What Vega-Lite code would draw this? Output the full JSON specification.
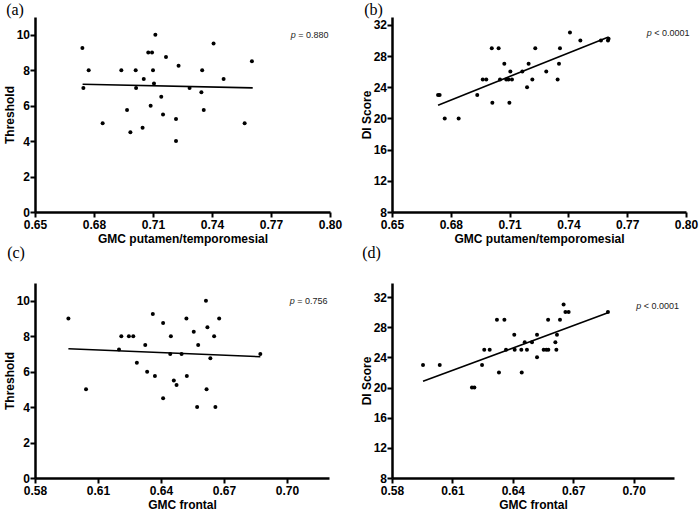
{
  "$schema": "https://vega.github.io/schema/vega-lite/v6.json",
  "background": "white",
  "padding": {"left": 3, "top": 2, "right": 5, "bottom": 5},
  "datasets": {
    "a_pts": [
      {"x":0.6741,"y":9.25},{"x":0.6746,"y":7},{"x":0.6773,"y":8},{"x":0.6844,"y":5},{"x":0.6939,"y":8},
      {"x":0.6968,"y":5.75},{"x":0.6985,"y":4.5},{"x":0.7012,"y":8},{"x":0.7014,"y":7},{"x":0.7047,"y":4.75},
      {"x":0.7053,"y":7.5},{"x":0.7076,"y":9},{"x":0.7095,"y":9},{"x":0.7088,"y":6},{"x":0.71,"y":8},
      {"x":0.7105,"y":7.25},{"x":0.7112,"y":10},{"x":0.7166,"y":8.75},{"x":0.7142,"y":6.5},{"x":0.7151,"y":5.5},
      {"x":0.7217,"y":5.25},{"x":0.7217,"y":4},{"x":0.723,"y":8.25},{"x":0.7286,"y":7},{"x":0.7346,"y":6.75},
      {"x":0.735,"y":8},{"x":0.7358,"y":5.75},{"x":0.7408,"y":9.5},{"x":0.7459,"y":7.5},{"x":0.7566,"y":5},
      {"x":0.7603,"y":8.5}
    ],
    "a_fit": [{"x":0.6742,"y":7.21},{"x":0.7607,"y":7.0}],
    "a_p": [{"x":0.78,"y":10,"part":"p","text":"p"},{"x":0.78,"y":10,"part":"v","text":"= 0.880"}],
    "b_pts": [
      {"x":0.6735,"y":23},{"x":0.6743,"y":23},{"x":0.6769,"y":20},{"x":0.684,"y":20},{"x":0.6935,"y":23},
      {"x":0.6963,"y":25},{"x":0.6981,"y":25},{"x":0.7009,"y":29},{"x":0.7012,"y":22},{"x":0.7044,"y":29},
      {"x":0.7051,"y":25},{"x":0.7073,"y":27},{"x":0.7083,"y":25},{"x":0.7094,"y":25},{"x":0.7099,"y":22},
      {"x":0.7104,"y":26},{"x":0.7112,"y":25},{"x":0.7165,"y":26},{"x":0.7189,"y":24},{"x":0.7197,"y":27},
      {"x":0.7216,"y":25},{"x":0.7231,"y":29},{"x":0.7287,"y":26},{"x":0.7345,"y":25},{"x":0.7352,"y":27},
      {"x":0.7357,"y":29},{"x":0.7408,"y":31},{"x":0.7461,"y":30},{"x":0.7566,"y":30},{"x":0.7602,"y":30},
      {"x":0.7605,"y":30.2}
    ],
    "b_fit": [{"x":0.6735,"y":21.7},{"x":0.7605,"y":30.45}],
    "b_p": [{"x":0.78,"y":30.9,"part":"p","text":"p"},{"x":0.78,"y":30.9,"part":"v","text":"< 0.0001"}],
    "c_pts": [
      {"x":0.5959,"y":9},{"x":0.6043,"y":5},{"x":0.62,"y":7.25},{"x":0.6211,"y":8},{"x":0.6247,"y":8},
      {"x":0.6268,"y":8},{"x":0.6285,"y":6.5},{"x":0.6325,"y":7.5},{"x":0.6334,"y":6},{"x":0.6361,"y":9.25},
      {"x":0.6371,"y":5.75},{"x":0.641,"y":8.75},{"x":0.641,"y":4.5},{"x":0.6444,"y":7},{"x":0.6447,"y":8},
      {"x":0.6461,"y":5.5},{"x":0.6474,"y":5.25},{"x":0.6498,"y":7},{"x":0.6521,"y":9},{"x":0.6523,"y":5.75},
      {"x":0.6556,"y":8.25},{"x":0.6572,"y":4},{"x":0.6577,"y":7.5},{"x":0.6614,"y":10},{"x":0.6617,"y":5},
      {"x":0.6621,"y":8.5},{"x":0.6635,"y":6.75},{"x":0.6653,"y":8},{"x":0.6659,"y":4},{"x":0.6677,"y":9},
      {"x":0.6873,"y":7}
    ],
    "c_fit": [{"x":0.5959,"y":7.29},{"x":0.6873,"y":6.84}],
    "c_p": [{"x":0.7013,"y":10,"part":"p","text":"p"},{"x":0.7013,"y":10,"part":"v","text":"= 0.756"}],
    "d_pts": [
      {"x":0.5954,"y":23},{"x":0.6037,"y":23},{"x":0.6197,"y":20},{"x":0.6209,"y":20},{"x":0.6247,"y":23},
      {"x":0.6258,"y":25},{"x":0.6285,"y":25},{"x":0.6321,"y":29},{"x":0.6331,"y":22},{"x":0.6358,"y":29},
      {"x":0.6366,"y":25},{"x":0.6407,"y":27},{"x":0.6409,"y":25},{"x":0.6442,"y":25},{"x":0.6444,"y":22},
      {"x":0.6459,"y":26},{"x":0.647,"y":25},{"x":0.6495,"y":26},{"x":0.652,"y":27},{"x":0.652,"y":24},
      {"x":0.6553,"y":25},{"x":0.6566,"y":25},{"x":0.6575,"y":29},{"x":0.6576,"y":25},{"x":0.6611,"y":26},
      {"x":0.6619,"y":27},{"x":0.6616,"y":25},{"x":0.6634,"y":29},{"x":0.6652,"y":31},{"x":0.6661,"y":30},
      {"x":0.6677,"y":30},{"x":0.6872,"y":30}
    ],
    "d_fit": [{"x":0.5954,"y":20.82},{"x":0.6872,"y":29.92}],
    "d_p": [{"x":0.7013,"y":30.76,"part":"p","text":"p"},{"x":0.7013,"y":30.76,"part":"v","text":"< 0.0001"}]
  },
  "columns": 2,
  "spacing": {"row": 1, "column": 18},
  "concat": [
    {
      "width": 295, "height": 195,
      "title": {"text": "(a)", "dx": 3, "offset": -1},
      "encoding": {
        "x": {"field": "x", "type": "quantitative", "scale": {"domain": [0.65, 0.8], "nice": false, "zero": false},
              "axis": {"values": [0.65, 0.68, 0.71, 0.74, 0.77, 0.8], "format": ".2f", "labelOverlap": false, "title": "GMC putamen/temporomesial"}},
        "y": {"field": "y", "type": "quantitative", "scale": {"domain": [0, 11], "nice": false, "zero": false},
              "axis": {"values": [0, 2, 4, 6, 8, 10], "labelOverlap": false, "labelSeparation": 0, "title": "Threshold"}}
      },
      "layer": [
        {"data": {"name": "a_pts"}, "mark": {"type": "circle", "size": 16, "color": "black", "opacity": 1}},
        {"data": {"name": "a_fit"}, "mark": {"type": "line", "color": "black", "strokeWidth": 1.6}},
        {"data": {"name": "a_p"}, "transform": [{"filter": "datum.part == 'p'"}],
         "mark": {"type": "text", "align": "left", "baseline": "middle", "fontStyle": "italic", "fontSize": 9, "font": "Liberation Sans", "color": "#222"},
         "encoding": {"text": {"field": "text"}}},
        {"data": {"name": "a_p"}, "transform": [{"filter": "datum.part == 'v'"}],
         "mark": {"type": "text", "align": "left", "baseline": "middle", "dx": 7.5, "fontSize": 9, "font": "Liberation Sans", "color": "#222"},
         "encoding": {"text": {"field": "text"}}}
      ]
    },
    {
      "width": 294, "height": 195,
      "title": {"text": "(b)", "dx": 4, "offset": -1},
      "encoding": {
        "x": {"field": "x", "type": "quantitative", "scale": {"domain": [0.65, 0.8], "nice": false, "zero": false},
              "axis": {"values": [0.65, 0.68, 0.71, 0.74, 0.77, 0.8], "format": ".2f", "labelOverlap": false, "title": "GMC putamen/temporomesial"}},
        "y": {"field": "y", "type": "quantitative", "scale": {"domain": [8, 33], "nice": false, "zero": false},
              "axis": {"values": [8, 12, 16, 20, 24, 28, 32], "labelOverlap": false, "labelSeparation": 0, "title": "DI Score"}}
      },
      "layer": [
        {"data": {"name": "b_pts"}, "mark": {"type": "circle", "size": 16, "color": "black", "opacity": 1}},
        {"data": {"name": "b_fit"}, "mark": {"type": "line", "color": "black", "strokeWidth": 1.6}},
        {"data": {"name": "b_p"}, "transform": [{"filter": "datum.part == 'p'"}],
         "mark": {"type": "text", "align": "left", "baseline": "middle", "fontStyle": "italic", "fontSize": 9, "font": "Liberation Sans", "color": "#222"},
         "encoding": {"text": {"field": "text"}}},
        {"data": {"name": "b_p"}, "transform": [{"filter": "datum.part == 'v'"}],
         "mark": {"type": "text", "align": "left", "baseline": "middle", "dx": 7.5, "fontSize": 9, "font": "Liberation Sans", "color": "#222"},
         "encoding": {"text": {"field": "text"}}}
      ]
    },
    {
      "width": 294, "height": 195,
      "title": {"text": "(c)", "dx": 4, "offset": 22},
      "encoding": {
        "x": {"field": "x", "type": "quantitative", "scale": {"domain": [0.58, 0.72], "nice": false, "zero": false},
              "axis": {"values": [0.58, 0.61, 0.64, 0.67, 0.7], "format": ".2f", "labelOverlap": false, "title": "GMC frontal"}},
        "y": {"field": "y", "type": "quantitative", "scale": {"domain": [0, 11], "nice": false, "zero": false},
              "axis": {"values": [0, 2, 4, 6, 8, 10], "labelOverlap": false, "labelSeparation": 0, "title": "Threshold"}}
      },
      "layer": [
        {"data": {"name": "c_pts"}, "mark": {"type": "circle", "size": 16, "color": "black", "opacity": 1}},
        {"data": {"name": "c_fit"}, "mark": {"type": "line", "color": "black", "strokeWidth": 1.6}},
        {"data": {"name": "c_p"}, "transform": [{"filter": "datum.part == 'p'"}],
         "mark": {"type": "text", "align": "left", "baseline": "middle", "fontStyle": "italic", "fontSize": 9, "font": "Liberation Sans", "color": "#222"},
         "encoding": {"text": {"field": "text"}}},
        {"data": {"name": "c_p"}, "transform": [{"filter": "datum.part == 'v'"}],
         "mark": {"type": "text", "align": "left", "baseline": "middle", "dx": 7.5, "fontSize": 9, "font": "Liberation Sans", "color": "#222"},
         "encoding": {"text": {"field": "text"}}}
      ]
    },
    {
      "width": 282, "height": 195,
      "title": {"text": "(d)", "dx": 2, "offset": 22},
      "encoding": {
        "x": {"field": "x", "type": "quantitative", "scale": {"domain": [0.58, 0.72], "nice": false, "zero": false},
              "axis": {"values": [0.58, 0.61, 0.64, 0.67, 0.7], "format": ".2f", "labelOverlap": false, "title": "GMC frontal"}},
        "y": {"field": "y", "type": "quantitative", "scale": {"domain": [8, 33.86], "nice": false, "zero": false},
              "axis": {"values": [8, 12, 16, 20, 24, 28, 32], "labelOverlap": false, "labelSeparation": 0, "title": "DI Score"}}
      },
      "layer": [
        {"data": {"name": "d_pts"}, "mark": {"type": "circle", "size": 16, "color": "black", "opacity": 1}},
        {"data": {"name": "d_fit"}, "mark": {"type": "line", "color": "black", "strokeWidth": 1.6}},
        {"data": {"name": "d_p"}, "transform": [{"filter": "datum.part == 'p'"}],
         "mark": {"type": "text", "align": "left", "baseline": "middle", "fontStyle": "italic", "fontSize": 9, "font": "Liberation Sans", "color": "#222"},
         "encoding": {"text": {"field": "text"}}},
        {"data": {"name": "d_p"}, "transform": [{"filter": "datum.part == 'v'"}],
         "mark": {"type": "text", "align": "left", "baseline": "middle", "dx": 7.5, "fontSize": 9, "font": "Liberation Sans", "color": "#222"},
         "encoding": {"text": {"field": "text"}}}
      ]
    }
  ],
  "config": {
    "view": {"stroke": null},
    "title": {"anchor": "start", "frame": "bounds", "font": "Liberation Serif", "fontSize": 16, "fontWeight": "normal", "color": "black"},
    "axis": {
      "grid": false, "domainColor": "black", "domainWidth": 2.5, "tickColor": "black", "tickWidth": 2, "tickSize": 5,
      "labelFont": "Liberation Sans", "labelFontWeight": "bold", "labelFontSize": 12, "labelColor": "black",
      "titleFont": "Liberation Sans", "titleFontWeight": "bold", "titleFontSize": 12, "titleColor": "black",
      "labelFlush": false, "labelOverlap": false
    },
    "axisX": {"labelPadding": 2, "titlePadding": 3},
    "axisY": {"labelPadding": 0.5, "titlePadding": 0}
  }
}
